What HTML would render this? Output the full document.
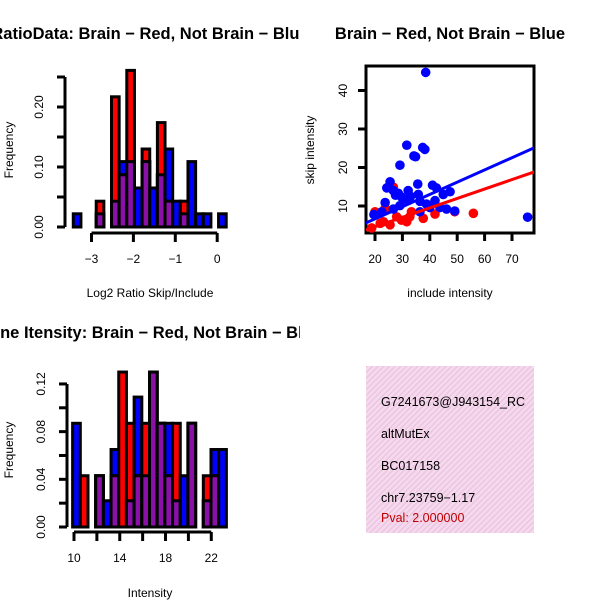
<!DOCTYPE html>
<html><head><meta charset="utf-8"><style>
body{margin:0;background:#fff}
svg{display:block;font-family:"Liberation Sans",sans-serif}
</style></head><body>
<svg id="s" width="600" height="600" viewBox="0 0 600 600">
<defs>
<pattern id="pink" width="4" height="4" patternUnits="userSpaceOnUse" patternTransform="rotate(45)">
<rect width="4" height="4" fill="#f8d8f0"/><rect width="1.5" height="4" fill="#e8c8dc"/></pattern>
<clipPath id="leftclip"><rect x="0" y="0" width="300" height="600"/></clipPath>
</defs>
</svg>
<script>
// ---- Top-left histogram data (log2 ratio) ----
const ratioBinStart = -3.435;
const ratioBinWidth = 0.1825;
const ratioRed  = [0,0,0,0.043,0,0.217,0.087,0.261,0,0.13,0,0.174,0.043,0,0.043,0,0,0,0,0];
const ratioBlue = [0.022,0,0,0.022,0,0.043,0.109,0.109,0.065,0.109,0.065,0.087,0.13,0.043,0.022,0.109,0.022,0.022,0,0.022];
const ratioXTicks = [-3,-2,-1,0];
const ratioYTicks = [0,0.05,0.10,0.15,0.20,0.25];
const ratioYLabels = ["0.00","","0.10","","0.20",""];
// ---- Bottom-left histogram data (intensity) ----
const intBinStart = 9.88;
const intBinWidth = 0.672;
const intRed  = [0,0.043,0,0.043,0,0.043,0.13,0.087,0.043,0.087,0.13,0.087,0.043,0.087,0,0.087,0,0.043,0.043,0];
const intBlue = [0.087,0,0,0.043,0.022,0.065,0,0.022,0.109,0.043,0.13,0.087,0.087,0.022,0.043,0.087,0,0.022,0.065,0.065];
const intXTicks = [10,12,14,16,18,20,22];
const intXLabels = ["10","","14","","18","","22"];
const intYTicks = [0,0.02,0.04,0.06,0.08,0.10,0.12];
const intYLabels = ["0.00","","0.04","","0.08","","0.12"];
// ---- Scatter data ----
const blueX = [38.5,31.6,34.2,34.8,37.4,38.2,29.1,25.5,35.6,41,42.4,47.4,24.3,26.7,28.5,32.1,29.7,35.8,32.1,36.4,44.9,41.9,23.7,29.1,38.8,43.7,46.1,49.1,36.4,22.5,26.7,40,75.7,19.6,25,27.5,30.5,33];
const blueY = [44.7,25.8,23,22.8,25.2,24.7,20.6,16.3,15.7,15.4,14.7,13.7,14.7,14,13.3,14,12.3,13,11.4,11.2,13,11.4,10.9,10.1,10.5,9.6,9.2,8.7,8.5,8.5,9.2,9.6,7.1,7.8,15,12.8,11.8,12.5];
const redX = [20,20,23.7,55.9,49.1,41.9,33.3,31.6,25.5,21.9,18.8,27.9,29.7,26.7,37.6,32.7,23.1];
const redY = [8.5,7.6,9.4,8.1,8.5,7.9,8.5,5.9,5.1,5.5,4.3,7.2,6.3,14.9,6.8,7.2,5.9];
const blueFit = [0.29,0.318];   // intercept, slope
const redFit = [-0.29,0.245];
const scXTicks = [20,30,40,50,60,70];
const scYTicks = [10,20,30,40];

const S=document.getElementById('s'),NS='http://www.w3.org/2000/svg';
function el(t,a,txt){const e=document.createElementNS(NS,t);for(const k in a)e.setAttribute(k,a[k]);if(txt!==undefined)e.textContent=txt;S.appendChild(e);return e;}

function hist(o){
  const xs=v=>o.x0+(v-o.xv0)*o.xk, ys=v=>o.y0-v*o.yk;
  for(let i=0;i<o.red.length;i++){
    const a=xs(o.start+i*o.w), b=xs(o.start+(i+1)*o.w);
    const r=o.red[i], bl=o.blue[i], m=Math.min(r,bl);
    if(bl>0){const e=el('rect',{x:a,y:ys(bl),width:b-a,height:ys(0)-ys(bl),fill:'#0000ff',stroke:'#000','stroke-width':3});
      
      }
    if(r>0){const e=el('rect',{x:a,y:ys(r),width:b-a,height:ys(0)-ys(r),fill:'#ff0000',stroke:'#000','stroke-width':3});
      
      }
    if(m>0){const e=el('rect',{x:a,y:ys(m),width:b-a,height:ys(0)-ys(m),fill:'#8a10a8',stroke:'#000','stroke-width':3});
      
      }
  }
  const yt=o.yTicks;
  let e=el('line',{x1:o.yAxisX,x2:o.yAxisX,y1:ys(yt[0]),y2:ys(yt[yt.length-1]),stroke:'#000','stroke-width':3});
  
  
  yt.forEach((v,i)=>{el('line',{x1:o.yAxisX-8,x2:o.yAxisX,y1:ys(v),y2:ys(v),stroke:'#000','stroke-width':3});
    if(o.yLabels[i]){const t=el('text',{x:o.yAxisX-22,y:ys(v),'font-size':12,'text-anchor':'middle',transform:`rotate(-90 ${o.yAxisX-22} ${ys(v)})`},o.yLabels[i]);
      
      }});
  const xt=o.xTicks;
  e=el('line',{x1:xs(xt[0]),x2:xs(xt[xt.length-1]),y1:o.xAxisY,y2:o.xAxisY,stroke:'#000','stroke-width':3});
  
  
  xt.forEach((v,i)=>{el('line',{x1:xs(v),x2:xs(v),y1:o.xAxisY,y2:o.xAxisY+9,stroke:'#000','stroke-width':3});
    const lab=o.xLabels?o.xLabels[i]:String(v).replace('-','−');
    if(lab){const t=el('text',{x:xs(v),y:o.xAxisY+30,'font-size':12,'text-anchor':'middle'},lab);
      
      }});
}
hist({name:'ratio',red:ratioRed,blue:ratioBlue,start:ratioBinStart,w:ratioBinWidth,x0:91.5,xv0:-3,xk:41.9,y0:227,yk:600,
  yAxisX:65,xAxisY:233,yTicks:ratioYTicks,yLabels:ratioYLabels,xTicks:ratioXTicks});
hist({name:'intensity',red:intRed,blue:intBlue,start:intBinStart,w:intBinWidth,x0:74,xv0:10,xk:11.44,y0:527,yk:1192,
  yAxisX:67,xAxisY:532,yTicks:intYTicks,yLabels:intYLabels,xTicks:intXTicks,xLabels:intXLabels});

// scatter
const sx=v=>375+(v-20)*2.74, sy=v=>206-(v-10)*3.85;
el('rect',{x:366,y:66,width:168,height:167,fill:'none',stroke:'#000','stroke-width':3,});
el('clipPath',{id:'cp'}).appendChild(document.createElementNS(NS,'rect'));
const cr=S.querySelector('#cp rect');cr.setAttribute('x',366);cr.setAttribute('y',66);cr.setAttribute('width',168);cr.setAttribute('height',167);
const g=el('g',{'clip-path':'url(#cp)',});
function pt(x,y,c,n,i){const e=document.createElementNS(NS,'circle');e.setAttribute('cx',sx(x));e.setAttribute('cy',sy(y));e.setAttribute('r',4.8);e.setAttribute('fill',c);
  
  
  g.appendChild(e);}
redX.forEach((x,i)=>pt(x,redY[i],'#ff0000','red',i));
blueX.forEach((x,i)=>pt(x,blueY[i],'#0000ff','blue',i));
function fit(f,c,n){const e=document.createElementNS(NS,'line');e.setAttribute('x1',sx(15));e.setAttribute('x2',sx(80));
  e.setAttribute('y1',sy(f[0]+f[1]*15));e.setAttribute('y2',sy(f[0]+f[1]*80));e.setAttribute('stroke',c);e.setAttribute('stroke-width',3);
  
  
  g.appendChild(e);}
fit(blueFit,'#0000ff','blue-fit-line');fit(redFit,'#ff0000','red-fit-line');
scXTicks.forEach(v=>{el('line',{x1:sx(v),x2:sx(v),y1:233,y2:241,stroke:'#000','stroke-width':3});
  const t=el('text',{x:sx(v),y:263,'font-size':12,'text-anchor':'middle'},String(v));
  
  });
scYTicks.forEach(v=>{el('line',{x1:358,x2:366,y1:sy(v),y2:sy(v),stroke:'#000','stroke-width':3});
  const t=el('text',{x:347,y:sy(v),'font-size':12,'text-anchor':'middle',transform:`rotate(-90 347 ${sy(v)})`},String(v));
  
  });
</script>
<script>
const S2=document.getElementById('s');
S2.insertAdjacentHTML('beforeend',`
<g clip-path="url(#leftclip)">
<text x="150" y="39" font-size="16.5" font-weight="bold" text-anchor="middle">RatioData: Brain − Red, Not Brain − Blue</text>
<text x="150" y="338" font-size="16.5" font-weight="bold" text-anchor="middle">Gene Itensity: Brain − Red, Not Brain − Blue</text>
</g>
<text x="450" y="39" font-size="16.5" font-weight="bold" text-anchor="middle">Brain − Red, Not Brain − Blue</text>
<text x="150" y="297" font-size="12" text-anchor="middle">Log2 Ratio Skip/Include</text>
<text x="13" y="150" font-size="12" text-anchor="middle" transform="rotate(-90 13 150)">Frequency</text>
<text x="450" y="297" font-size="12" text-anchor="middle">include intensity</text>
<text x="314" y="150" font-size="12" text-anchor="middle" transform="rotate(-90 314 150)">skip intensity</text>
<text x="150" y="597" font-size="12" text-anchor="middle">Intensity</text>
<text x="13" y="450" font-size="12" text-anchor="middle" transform="rotate(-90 13 450)">Frequency</text>
<svg x="366" y="366" width="168" height="167">
<rect width="168" height="167" fill="url(#pink)"/>
<text x="15" y="40" font-size="12.5">G7241673@J943154_RC</text>
<text x="15" y="72" font-size="12.5">altMutEx</text>
<text x="15" y="104" font-size="12.5">BC017158</text>
<text x="15" y="136" font-size="12.5">chr7.23759−1.17</text>
<text x="15" y="156" font-size="12.5" fill="#c00000">Pval: 2.000000</text>
</svg>`);
</script>
</body></html>
